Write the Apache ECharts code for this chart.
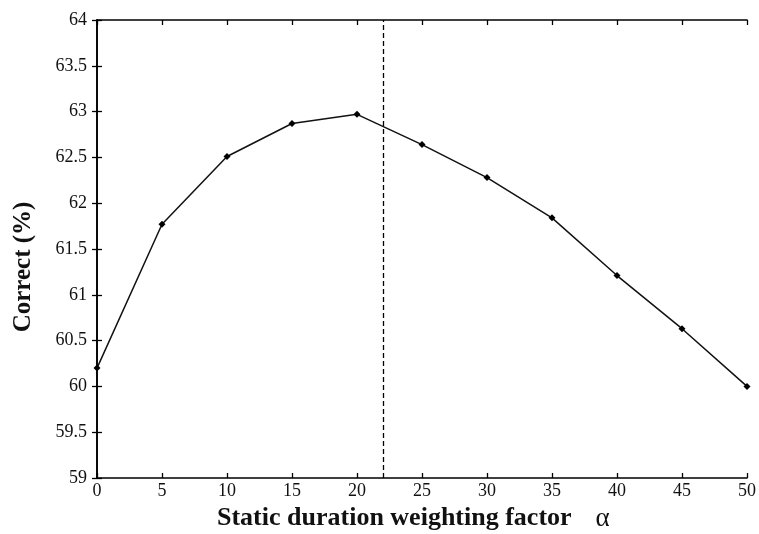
<!DOCTYPE html>
<html><head><meta charset="utf-8">
<script src="https://cdn.jsdelivr.net/npm/echarts@6/dist/echarts.min.js"></script>
<style>html,body{margin:0;padding:0;background:#fff}#c{width:759px;height:534px}</style>
</head><body><div id="c"></div>
<script>
const alphaValues = [0, 5, 10, 15, 20, 25, 30, 35, 40, 45, 50];
const correctPct = [60.20, 61.77, 62.51, 62.87, 62.97, 62.64, 62.28, 61.84, 61.21, 60.63, 60.00];
const dashedAlpha = 22;
const xTicks = [0, 5, 10, 15, 20, 25, 30, 35, 40, 45, 50];
const yTicks = [59, 59.5, 60, 60.5, 61, 61.5, 62, 62.5, 63, 63.5, 64];

const font = 'Liberation Serif';
const chart = echarts.init(document.getElementById('c'), null, {renderer: 'canvas'});
const axisLine = {show: true, lineStyle: {color: '#000', width: 1.6}};
const axisTick = {show: true, inside: true, length: 5, lineStyle: {color: '#000', width: 1.3}};
chart.setOption({
  animation: false,
  backgroundColor: '#fff',
  grid: {left: 97, right: 8, top: 20, bottom: 56},
  xAxis: [{
    type: 'value', min: xTicks[0], max: xTicks[xTicks.length - 1], interval: 5,
    axisLine, axisTick, splitLine: {show: false},
    axisLabel: {color: '#111', fontFamily: font, fontSize: 18, margin: 4}
  }, {
    type: 'value', position: 'top', min: 0, max: 50, interval: 5,
    axisLine, axisTick, splitLine: {show: false}, axisLabel: {show: false}
  }],
  yAxis: [{
    type: 'value', min: yTicks[0], max: yTicks[yTicks.length - 1], interval: 0.5,
    axisLine, axisTick, splitLine: {show: false},
    axisLabel: {color: '#111', fontFamily: font, fontSize: 18, margin: 10}
  }, {
    type: 'value', position: 'right', min: 59, max: 64, interval: 0.5,
    axisLine, axisTick, splitLine: {show: false}, axisLabel: {show: false}
  }],
  series: [{
    type: 'line',
    data: alphaValues.map((a, i) => [a, correctPct[i]]),
    symbol: 'diamond', symbolSize: 7,
    itemStyle: {color: '#000'},
    lineStyle: {color: '#111', width: 1.5},
    clip: false,
    markLine: {
      silent: true, symbol: ['none', 'none'],
      label: {show: false},
      lineStyle: {color: '#000', type: [5, 3], width: 1.3},
      data: [{xAxis: dashedAlpha}]
    }
  }],
  graphic: [{
    type: 'text', left: 217, top: 505,
    style: {
      text: '{b|Static duration weighting factor}{a|α}',
      rich: {
        b: {fontFamily: font, fontSize: 26, fontWeight: 'bold', fill: '#111'},
        a: {fontFamily: font, fontSize: 27, fill: '#111', padding: [0, 0, 0, 24]}
      }
    }
  }, {
    type: 'text', x: 24, y: 267, rotation: Math.PI / 2,
    style: {
      text: 'Correct (%)', fontFamily: font, fontSize: 25, fontWeight: 'bold',
      fill: '#111', align: 'center', verticalAlign: 'middle'
    }
  }]
});
</script></body></html>
